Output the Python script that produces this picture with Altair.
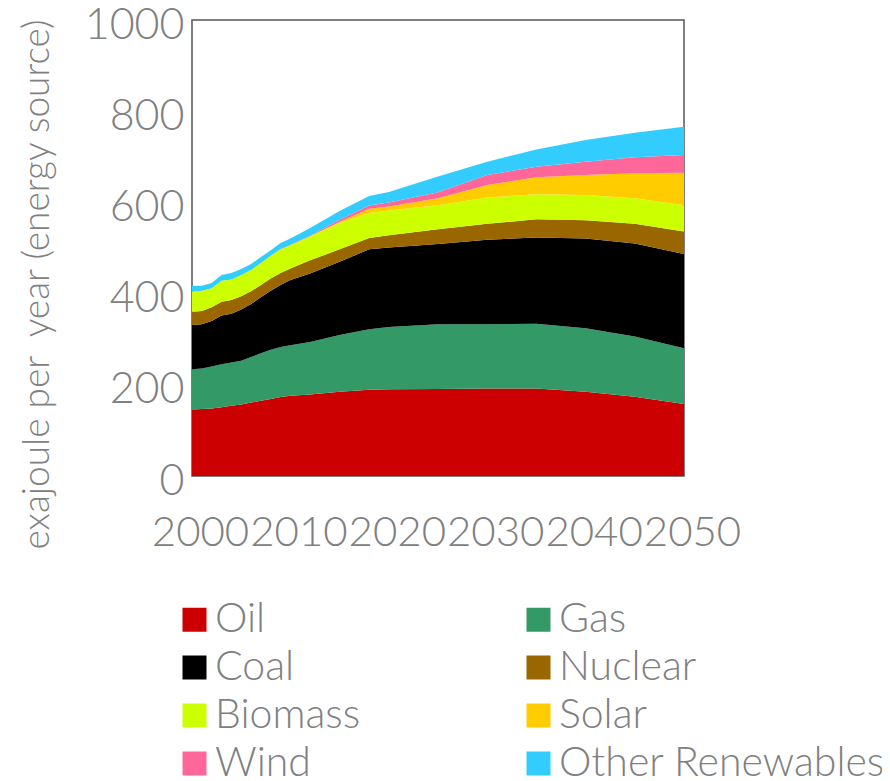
import altair as alt
import pandas as pd

years = [2000, 2001, 2002, 2003, 2004, 2005, 2006, 2007, 2008, 2009, 2010,
         2012, 2015, 2018, 2020, 2025, 2030, 2035, 2040, 2045, 2050]

oil     = [146, 147, 148, 151, 154, 157, 161, 165, 169, 173, 176, 179, 185, 189, 190, 191, 192, 192, 185, 174, 158]
gas     = [88, 89, 92, 94, 95, 96, 100, 104, 108, 110, 111, 115, 124, 133, 137, 142, 141, 142, 139, 132, 122]
coal    = [97, 97, 100, 107, 107, 112, 116, 123, 129, 136, 143, 150, 161, 175, 174, 176, 185, 189, 197, 204, 207]
nuclear = [29, 29, 30, 30, 30, 29, 28, 27, 27, 26, 25, 29, 27, 25, 27, 32, 35, 40, 40, 43, 49]
biomass = [44, 44, 42, 46, 45, 47, 47, 48, 50, 52, 51, 52, 58, 55, 54, 53, 58, 55, 55, 56, 58]
solar   = [0, 0, 0, 0, 0, 0, 0, 0, 0, 0, 0, 1, 2, 9, 9, 15, 27, 37, 44, 55, 71]
wind    = [0, 0, 0, 0, 0, 0, 0, 0, 0, 1, 1, 1, 5, 7, 9, 13, 22, 23, 29, 35, 39]
other   = [13, 11, 11, 13, 14, 13, 13, 13, 12, 13, 14, 17, 19, 21, 23, 35, 29, 38, 48, 54, 62]

sources = ["Oil", "Gas", "Coal", "Nuclear", "Biomass", "Solar", "Wind", "Other Renewables"]
colors = ["#CC0000", "#339966", "#000000", "#996600", "#CCFF00", "#FFCC00", "#FF6699", "#33CCFF"]
series = [oil, gas, coal, nuclear, biomass, solar, wind, other]

x_ticks = [2000, 2010, 2020, 2030, 2040, 2050]
y_ticks = [0, 200, 400, 600, 800, 1000]

rows = []
for i, (name, vals) in enumerate(zip(sources, series)):
    for yr, v in zip(years, vals):
        rows.append({"year": yr, "value": v, "source": name, "order": i})
df = pd.DataFrame(rows)

GRAY = "#808080"
FONT = "Lato"
W = 300

chart = alt.Chart(df).mark_area(interpolate="linear").encode(
    x=alt.X("year:Q",
            scale=alt.Scale(domain=[2000, 2050], nice=False, zero=False),
            axis=alt.Axis(values=x_ticks, format="d", title=None, grid=False,
                          domain=False, ticks=False, labelFontSize=42,
                          labelColor=GRAY, labelFont=FONT, labelFontWeight=W,
                          labelPadding=36, labelOffset=8,
                          labelFlush=False, labelOverlap=False)),
    y=alt.Y("value:Q", stack="zero",
            scale=alt.Scale(domain=[0, 1000], nice=False),
            axis=alt.Axis(values=y_ticks, format="d",
                          title="exajoule per\u00a0 year (energy source)",
                          grid=False, domain=False, ticks=False,
                          labelFontSize=43, labelColor=GRAY, labelFont=FONT,
                          labelFontWeight=W,
                          labelPadding=8, labelOffset=5,
                          titleFontSize=37, titleColor=GRAY, titleFont=FONT,
                          titleFontWeight=W, titleX=-155, titleY=264,
                          titleAlign="center", titleBaseline="middle", titleAngle=-90)),
    color=alt.Color("source:N",
                    scale=alt.Scale(domain=sources, range=colors),
                    legend=alt.Legend(title=None, orient="none", legendX=-18, legendY=579,
                                      columns=2, direction="horizontal",
                                      symbolType="square", symbolSize=576,
                                      symbolStrokeWidth=0, symbolOpacity=1,
                                      labelFontSize=41, labelColor=GRAY, labelFont=FONT,
                                      labelFontWeight=W,
                                      labelLimit=500, labelOffset=0,
                                      rowPadding=6, columnPadding=157, padding=0)),
    order=alt.Order("order:Q", sort="ascending"),
).properties(
    width=492, height=456,
    autosize=alt.AutoSizeParams(type="none"),
    padding={"left": 184, "top": 12, "right": 198, "bottom": 312},
).configure_view(
    stroke="#555555", strokeWidth=1.5
)

chart.save("out.html", embed_options={"renderer": "svg", "actions": False})
